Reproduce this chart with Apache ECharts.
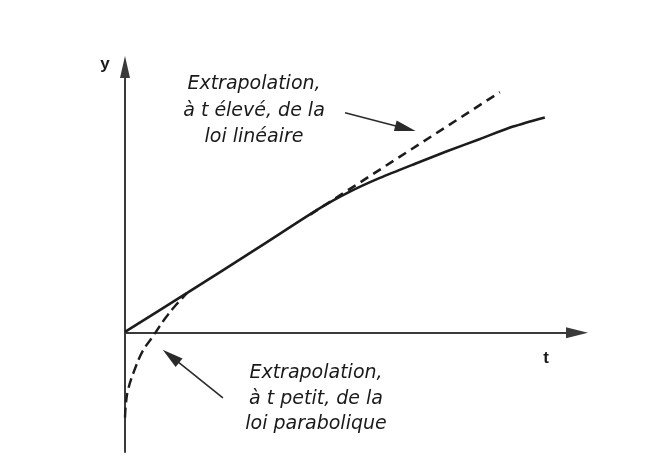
<!DOCTYPE html>
<html>
<head>
<meta charset="utf-8">
<script src="https://cdn.jsdelivr.net/npm/echarts@6.0.0/dist/echarts.min.js"></script>
<style>
  html, body { margin: 0; padding: 0; background: #fff; }
  #chart { width: 645px; height: 469px; }
</style>
</head>
<body>
<div id="chart"></div>
<script>
// courbe réelle (régime linéaire-parabolique)
const curveT = [0, 1.41, 3.06, 4.42, 5.10, 5.78, 6.58, 7.30, 8.05, 8.80, 9.52];
const curveY = [0.02, 0.87, 1.88, 2.72, 3.08, 3.38, 3.69, 3.96, 4.23, 4.50, 4.70];

// extrapolation de la loi linéaire (t élevé)
const linT = [4.2, 8.5];
const linY = [2.58, 5.25];

// extrapolation de la loi parabolique (t petit)
const paraT = [0, 0.02, 0.07, 0.2, 0.4, 0.63, 0.9, 1.15, 1.41];
const paraY = [-1.85, -1.55, -1.24, -0.85, -0.4, -0.08, 0.3, 0.6, 0.87];

// flèches d'annotation [queue, pointe]
const arrowHigh = [[4.99, 4.80], [6.36, 4.46]];
const arrowLow = [[2.22, -1.42], [1.04, -0.51]];

const noteHigh = ['Extrapolation,', 'à t élevé, de la', 'loi linéaire'];
const noteLow = ['Extrapolation,', 'à t petit, de la', 'loi parabolique'];
const axisNames = ['t', 'y'];

const zip = (xs, ys) => xs.map((x, i) => [x, ys[i]]);

const ink = '#1c1c1c';
const chart = echarts.init(document.getElementById('chart'));

const arrowLine = (pts) => [
  { coord: pts[0], symbol: 'none' },
  { coord: pts[1], symbol: 'triangle', symbolSize: [11, 21] }
];

chart.setOption({
  animation: false,
  backgroundColor: '#ffffff',
  grid: { left: 125, right: 68, top: 67, bottom: 17 },
  xAxis: {
    type: 'value',
    min: 0,
    max: 10.25,
    axisLine: {
      onZero: true,
      symbol: ['none', 'triangle'],
      symbolSize: [11, 22],
      lineStyle: { color: '#3a3a3a', width: 2 }
    },
    axisTick: { show: false },
    axisLabel: { show: false },
    splitLine: { show: false }
  },
  yAxis: {
    type: 'value',
    min: -2.6,
    max: 5.8,
    axisLine: {
      show: true,
      onZero: false,
      symbol: ['none', 'triangle'],
      symbolSize: [10, 22],
      lineStyle: { color: '#3a3a3a', width: 2 }
    },
    axisTick: { show: false },
    axisLabel: { show: false },
    splitLine: { show: false }
  },
  series: [
    {
      name: 'courbe',
      type: 'line',
      smooth: 0.25,
      showSymbol: false,
      data: zip(curveT, curveY),
      lineStyle: { color: ink, width: 2.6 },
      markLine: {
        silent: true,
        label: { show: false },
        lineStyle: { color: '#2a2a2a', width: 1.6, type: 'solid' },
        data: [arrowLine(arrowHigh), arrowLine(arrowLow)]
      },
      z: 3
    },
    {
      name: 'linéaire',
      type: 'line',
      showSymbol: false,
      data: zip(linT, linY),
      lineStyle: { color: ink, width: 2.6, type: [9, 6] },
      z: 2
    },
    {
      name: 'parabolique',
      type: 'line',
      smooth: 0.4,
      showSymbol: false,
      data: zip(paraT, paraY),
      lineStyle: { color: ink, width: 2.4, type: [10, 5] },
      z: 2
    }
  ],
  graphic: [
    {
      type: 'text',
      x: 254, y: 111,
      style: {
        text: noteHigh.join('\n'),
        font: 'italic 19px "DejaVu Sans"',
        fill: '#1a1a1a',
        align: 'center',
        verticalAlign: 'middle',
        lineHeight: 26.5
      }
    },
    {
      type: 'text',
      x: 316, y: 399,
      style: {
        text: noteLow.join('\n'),
        font: 'italic 19px "DejaVu Sans"',
        fill: '#1a1a1a',
        align: 'center',
        verticalAlign: 'middle',
        lineHeight: 25.5
      }
    },
    {
      type: 'text',
      x: 546, y: 358,
      style: {
        text: axisNames[0],
        font: 'bold 17px "Liberation Sans"',
        fill: '#1a1a1a',
        align: 'center',
        verticalAlign: 'middle'
      }
    },
    {
      type: 'text',
      x: 105, y: 64,
      style: {
        text: axisNames[1],
        font: 'bold 17px "Liberation Sans"',
        fill: '#1a1a1a',
        align: 'center',
        verticalAlign: 'middle'
      }
    }
  ]
});
</script>
</body>
</html>
